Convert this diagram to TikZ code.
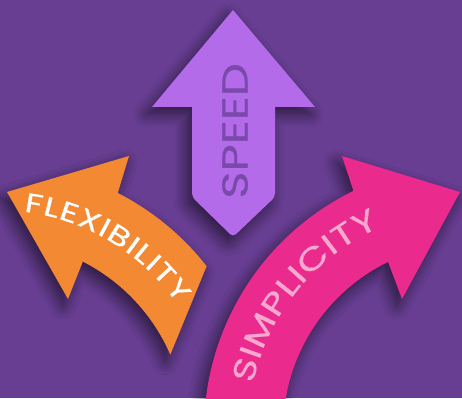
\documentclass[tikz,border=0pt]{standalone}
\usepackage{fontspec}
\setmainfont{Poppins}
\newfontfamily\labelfont{Poppins}[FakeStretch=1.3, FakeBold=0.6]
\usetikzlibrary{calc,decorations.text,shadows.blur}
\definecolor{bgpurple}{HTML}{673E92}
\definecolor{speedpurple}{HTML}{B36BEA}
\definecolor{speedtext}{HTML}{7B48AB}
\definecolor{flexorange}{HTML}{F38A33}
\definecolor{simppink}{HTML}{EA2A8D}
\definecolor{simptext}{HTML}{F6A8CF}
\tikzset{
  arrowshadow/.style={blur shadow={shadow xshift=-5pt, shadow yshift=-7pt,
    shadow blur radius=13pt, shadow opacity=60, shadow blur steps=14}},
}
\newcommand{\arclabel}[7]{%
  \path [decorate, decoration={text along path, text align={fit to path},
    text color=#5, text={|\labelfont\fontsize{#6}{#6}\selectfont|#7}}]
    ($(#1)+(#2:#4)$) arc [start angle=#2, end angle=#3, radius=#4];
}

\begin{document}
\begin{tikzpicture}[x=1pt,y=1pt]
  \useasboundingbox (0,0) rectangle (462,398);
  \fill [bgpurple] (0,0) rectangle (462,398);
  \clip (0,0) rectangle (462,398);
  \coordinate (flexc) at (-3,-32);
  \coordinate (simpc) at (470,-32);
  % speed
  \fill [speedpurple, arrowshadow] (233,388) -- (315,291) -- (275,291)
    [rounded corners=4pt] -- (275,201) -- (233,161) -- (192,201) [sharp corners]
    -- (192,291) -- (152,291) -- cycle;
  \node [rotate=90, text=speedtext, font=\labelfont\fontsize{36}{36}\selectfont,
    inner sep=0pt] (speed) at (235,267) {SPEED};
  % flexibility
  \fill [flexorange, arrowshadow] ($(flexc)+(23.5:189)$)
    arc [start angle=23.5, end angle=63, radius=189] -- (68,99) -- (7,206)
    -- (129,242) -- ($(flexc)+(63:266)$) arc [start angle=63, end angle=38, radius=266]
    -- cycle;
  \arclabel{flexc}{83}{35}{220}{white}{27}{FLEXIBILITY}
  % simplicity
  \fill [simppink, arrowshadow] ($(simpc)+(185:266)$)
    arc [start angle=185, end angle=116, radius=266] -- (342,242) -- (460,206)
    -- (402,99) -- ($(simpc)+(116:187)$) arc [start angle=116, end angle=185, radius=187]
    -- cycle;
  \arclabel{simpc}{168}{114}{222}{simptext}{31}{SIMPLICITY}
\end{tikzpicture}
\end{document}
